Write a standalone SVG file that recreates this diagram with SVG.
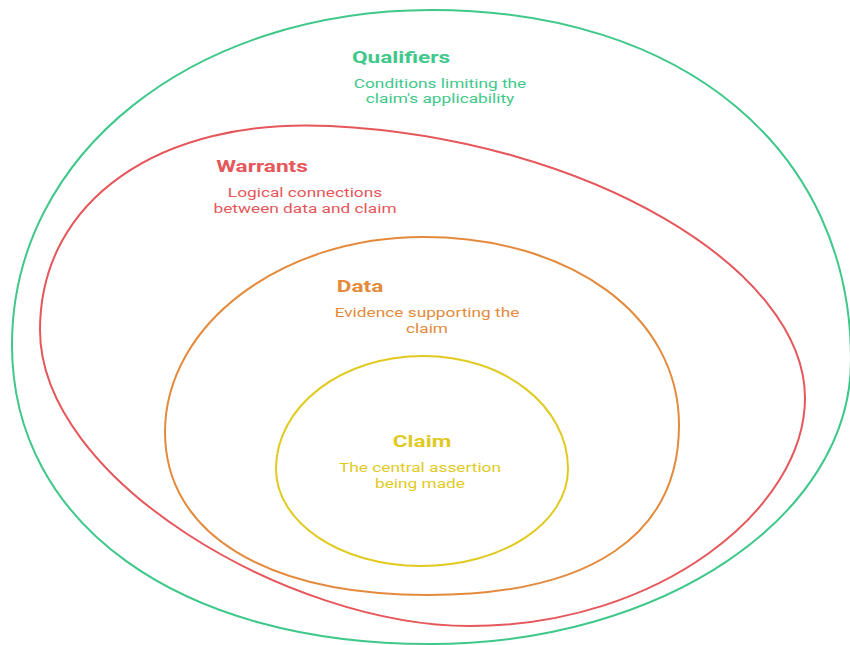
<svg xmlns="http://www.w3.org/2000/svg" width="850" height="645" viewBox="0 0 850 645">
  <style>
    .ring { fill: none; stroke-width: 2; }
    .title { font-family: Roboto, "Liberation Sans", sans-serif; font-size: 17px; font-weight: 700; text-anchor: middle; }
    .desc { font-family: Roboto, "Liberation Sans", sans-serif; font-size: 13px; text-anchor: middle; }
    .green { stroke: #3fc88a; } .green-t { fill: #3fc88a; }
    .red { stroke: #e5575b; } .red-t { fill: #e5575b; }
    .orange { stroke: #e48a3c; } .orange-t { fill: #e48a3c; }
    .yellow { stroke: #e1ca1f; } .yellow-t { fill: #e1ca1f; }
  </style>
  <rect width="850" height="645" fill="#ffffff"/>

  <!-- Outermost layer -->
  <g id="qualifiers">
    <path class="ring green" d="M432 10 C683 10 851 150 851 360 C851 517 662 644 430 644 C179 644 12 524 12 345 C12 154 193 10 432 10 Z"/>
    <text class="title green-t" transform="translate(401 63) scale(1.33 1)">Qualifiers</text>
    <text class="desc green-t" transform="translate(440 88) scale(1.33 1)">Conditions limiting the</text>
    <text class="desc green-t" transform="translate(440 103) scale(1.33 1)">claim's applicability</text>
  </g>

  <!-- Second layer: tilted blob -->
  <g id="warrants">
    <path class="ring red" d="M330 126 C590 139 805 270 805 398 C805 508 660 626 470 626 C290 626 40 480 40 330 C40 200 160 117.5 330 126 Z"/>
    <text class="title red-t" transform="translate(262 172) scale(1.33 1)">Warrants</text>
    <text class="desc red-t" transform="translate(305 197) scale(1.33 1)">Logical connections</text>
    <text class="desc red-t" transform="translate(305 213) scale(1.33 1)">between data and claim</text>
  </g>

  <!-- Third layer -->
  <g id="data">
    <path class="ring orange" d="M423 237 C571 237 679 316 679 425 C679 535 591 595 428 595 C265 595 165 533 165 432 C165 325 281 237 423 237 Z"/>
    <text class="title orange-t" transform="translate(360 292) scale(1.33 1)">Data</text>
    <text class="desc orange-t" transform="translate(427 317) scale(1.33 1)">Evidence supporting the</text>
    <text class="desc orange-t" transform="translate(427 333) scale(1.33 1)">claim</text>
  </g>

  <!-- Core -->
  <g id="claim">
    <path class="ring yellow" d="M423 356 C504 356 568 406 568 469 C568 522 504 566 421 566 C340 566 276 522 276 469 C276 406 342 356 423 356 Z"/>
    <text class="title yellow-t" transform="translate(422 447) scale(1.33 1)">Claim</text>
    <text class="desc yellow-t" transform="translate(420 472) scale(1.33 1)">The central assertion</text>
    <text class="desc yellow-t" transform="translate(420 488) scale(1.33 1)">being made</text>
  </g>

  <g id="connectors"/>
</svg>
